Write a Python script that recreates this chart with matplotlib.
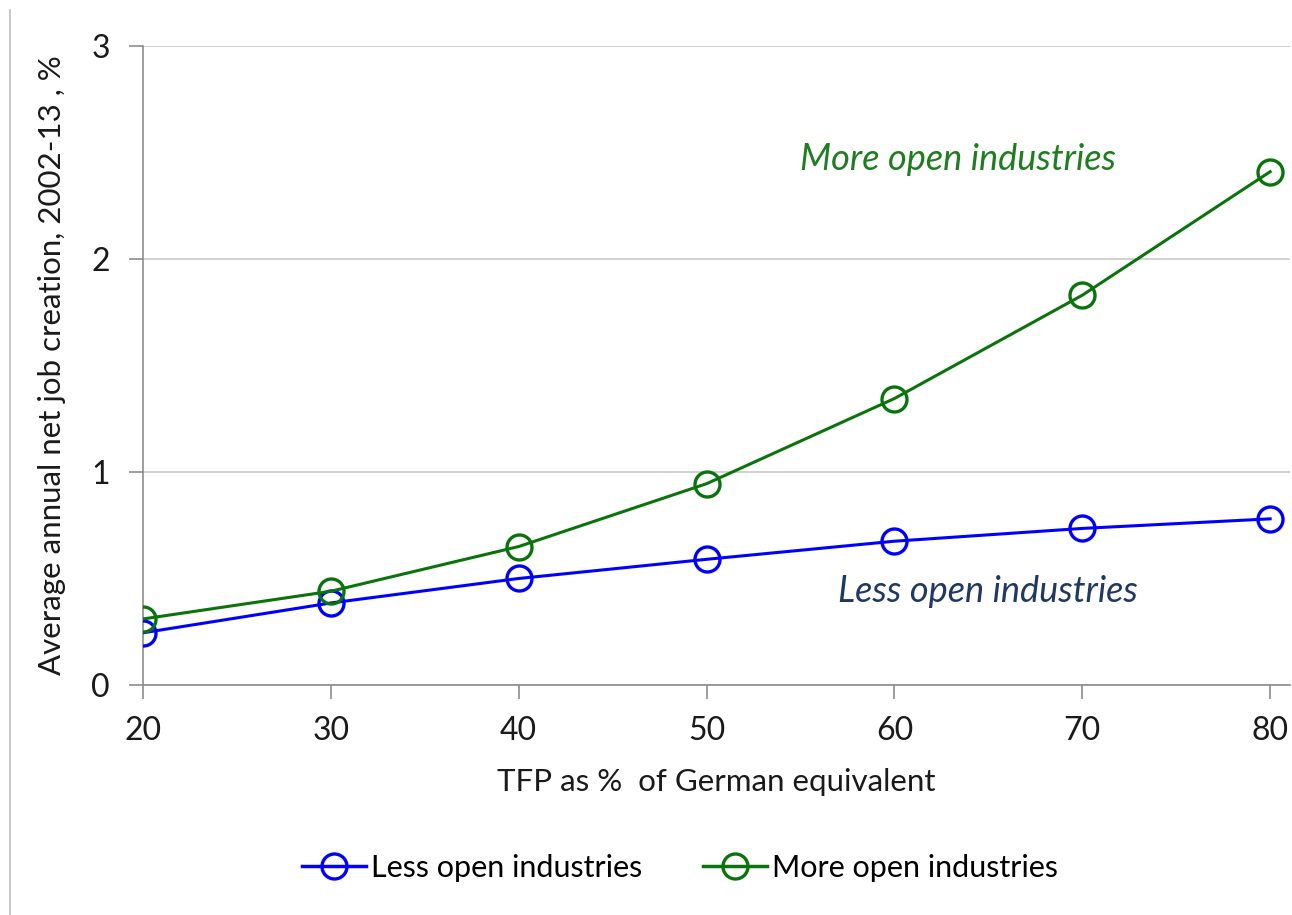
import matplotlib
matplotlib.use("Agg")
import matplotlib.pyplot as plt
from matplotlib.lines import Line2D

plt.rcParams['font.family'] = ['Lato', 'DejaVu Sans']

tfp = [20, 30, 40, 50, 60, 70, 80]
less_open = [0.245, 0.385, 0.50, 0.59, 0.675, 0.735, 0.78]
more_open = [0.31, 0.44, 0.65, 0.945, 1.345, 1.83, 2.41]
series_names = ["Less open industries", "More open industries"]
yticks = [0, 1, 2, 3]
xticks = [20, 30, 40, 50, 60, 70, 80]

blue = '#0000FF'
green = '#0B730B'

fig = plt.figure(figsize=(12.92, 9.15), dpi=100)
ax = fig.add_axes([0.1107, 0.2514, 0.8878, 0.6983])

ax.plot(tfp, less_open, color=blue, lw=2.2, marker='o', ms=18, mfc='none',
        mec=blue, mew=2.4, label=series_names[0], zorder=3)
ax.plot(tfp, more_open, color=green, lw=2.2, marker='o', ms=18, mfc='none',
        mec=green, mew=2.4, label=series_names[1], zorder=4)

ax.set_xlim(20, 81.06)
ax.set_ylim(0, 3)
ax.set_xticks(xticks)
ax.set_yticks(yticks)
ax.yaxis.grid(True, color='#C8C8C8', lw=1.2)
ax.set_axisbelow(True)
for s in ['top', 'right']:
    ax.spines[s].set_visible(False)
for s in ['left', 'bottom']:
    ax.spines[s].set_color('#8C8C8C')
    ax.spines[s].set_linewidth(1.2)
ax.tick_params(axis='both', colors='#8C8C8C', length=10, width=1.2, labelsize=23,
               labelcolor='#1a1a1a')
ax.tick_params(axis='x', direction='out', pad=12)
ax.tick_params(axis='y', direction='out', pad=14)

ax.set_xlabel("TFP as %  of German equivalent", fontsize=22.5, color='#1a1a1a', labelpad=16)
ax.set_ylabel("Average annual net job creation, 2002-13 , %", fontsize=22.5,
              color='#1a1a1a', labelpad=18)

ax.text(800/1292, 1 - 160/915, "More open industries", transform=fig.transFigure,
        fontsize=26, style='italic', color='#1E7D1E', ha='left', va='center')
ax.text(838/1292, 1 - 592/915, "Less open industries", transform=fig.transFigure,
        fontsize=26, style='italic', color='#1F3864', ha='left', va='center')

handles = [Line2D([], [], color=blue, lw=2.5, marker='o', ms=18, mfc='none', mew=2.4),
           Line2D([], [], color=green, lw=2.5, marker='o', ms=18, mfc='none', mew=2.4)]
fig.legend(handles, series_names, loc='center', bbox_to_anchor=(680/1292, 1 - 868/915),
           ncol=2, frameon=False, fontsize=22, handlelength=2.1, handletextpad=0.15,
           columnspacing=2.0)

fig.add_artist(Line2D([10/1292, 10/1292], [1 - 10/915, 0], transform=fig.transFigure,
                      color='#BFBFBF', lw=1.2))

fig.savefig("out.png", dpi=100)
